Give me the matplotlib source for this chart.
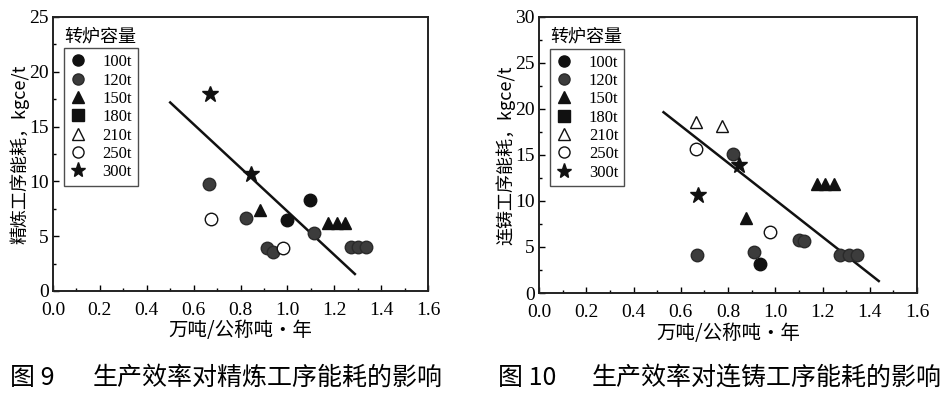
import numpy as np
import matplotlib
matplotlib.use("Agg")
import matplotlib.pyplot as plt
from matplotlib.lines import Line2D
from matplotlib.ticker import MultipleLocator

plt.rcParams['font.family'] = ['Liberation Serif', 'Noto Sans CJK SC']
CJK = ['Noto Sans CJK SC', 'DejaVu Sans']

# legend categories (转炉容量)
capacities = ['100t', '120t', '150t', '180t', '210t', '250t', '300t']

# ---- 图9: 精炼工序能耗 ----
ref_100t_x = [0.997, 1.096]
ref_100t_y = [6.5, 8.3]
ref_120t_x = [0.666, 0.823, 1.114, 0.911, 0.937, 1.27, 1.30, 1.335]
ref_120t_y = [9.75, 6.65, 5.3, 3.9, 3.6, 4.05, 4.05, 4.05]
ref_150t_x = [0.883, 1.174, 1.210, 1.245]
ref_150t_y = [7.4, 6.2, 6.2, 6.2]
ref_250t_x = [0.673, 0.98]
ref_250t_y = [6.6, 3.95]
ref_300t_x = [0.670, 0.845]
ref_300t_y = [18.0, 10.7]
ref_fit_x = [0.50, 1.288]
ref_fit_y = [17.2, 1.55]

# ---- 图10: 连铸工序能耗 ----
cc_100t_x = [0.936]
cc_100t_y = [3.2]
cc_120t_x = [0.668, 0.823, 0.911, 1.099, 1.12, 1.275, 1.31, 1.345]
cc_120t_y = [4.1, 15.1, 4.5, 5.75, 5.6, 4.1, 4.1, 4.1]
cc_150t_x = [0.877, 1.176, 1.212, 1.247]
cc_150t_y = [8.1, 11.9, 11.9, 11.9]
cc_210t_x = [0.665, 0.774]
cc_210t_y = [18.6, 18.1]
cc_250t_x = [0.665, 0.976]
cc_250t_y = [15.6, 6.65]
cc_300t_x = [0.672, 0.845]
cc_300t_y = [10.7, 13.9]
cc_fit_x = [0.527, 1.438]
cc_fit_y = [19.65, 1.3]

styles = {
    '100t': dict(marker='o', mfc='#111111', mec='#111111'),
    '120t': dict(marker='o', mfc='#3c3c3c', mec='#2a2a2a'),
    '150t': dict(marker='^', mfc='#111111', mec='#111111'),
    '180t': dict(marker='s', mfc='#111111', mec='#111111'),
    '210t': dict(marker='^', mfc='white', mec='#111111'),
    '250t': dict(marker='o', mfc='white', mec='#111111'),
    '300t': dict(marker='*', mfc='#111111', mec='#111111'),
}
msizes = {'300t': 12}


def draw(ax, series, fit_x, fit_y, ymax, ylabel):
    ax.plot(fit_x, fit_y, color='#111111', lw=1.8, zorder=2)
    for cap, (xs, ys) in series.items():
        ax.plot(xs, ys, ls='none', ms=msizes.get(cap, 9), mew=1.0,
                zorder=3, **styles[cap])
    ax.set_xlim(0, 1.6)
    ax.set_ylim(0, ymax)
    ax.xaxis.set_minor_locator(MultipleLocator(0.1))
    ax.yaxis.set_major_locator(MultipleLocator(5))
    ax.yaxis.set_minor_locator(MultipleLocator(2.5))
    ax.set_xticks(np.arange(0, 1.61, 0.2))
    ax.set_xticklabels(['%.1f' % v for v in np.arange(0, 1.61, 0.2)])
    ax.tick_params(which='both', direction='in', top=False, right=False,
                   labelsize=14, width=1.0)
    ax.tick_params(axis='x', pad=8)
    ax.tick_params(axis='y', pad=3)
    ax.tick_params(which='major', length=4)
    ax.tick_params(which='minor', length=2.5)
    for s in ax.spines.values():
        s.set_linewidth(1.4)
        s.set_color('#222222')
    ax.set_xlabel('万吨/公称吨·年', family=CJK, fontsize=14, labelpad=1)
    ax.set_ylabel(ylabel, family=CJK, fontsize=13, labelpad=0)

    handles = [Line2D([], [], ls='none', ms=msizes.get(c, 9) - 1, mew=1.0,
                      **styles[c]) for c in capacities]
    leg = ax.legend(handles, capacities, loc='upper left',
                    bbox_to_anchor=(0.028, 0.885), frameon=True, fancybox=False,
                    edgecolor='#222222', fontsize=12, handlelength=1.0,
                    handletextpad=1.0, labelspacing=0.14, borderpad=0.35,
                    borderaxespad=0)
    leg.get_frame().set_linewidth(1.0)
    ax.text(0.125, 0.928, '转炉容量', transform=ax.transAxes, family=CJK,
            fontsize=13, ha='center', va='center')


fig = plt.figure(figsize=(9.45, 3.96), dpi=100)
ax1 = fig.add_axes([0.0561, 0.2652, 0.3968, 0.6919])
ax2 = fig.add_axes([0.5704, 0.2601, 0.400, 0.697])

draw(ax1, {'100t': (ref_100t_x, ref_100t_y), '120t': (ref_120t_x, ref_120t_y),
           '150t': (ref_150t_x, ref_150t_y), '250t': (ref_250t_x, ref_250t_y),
           '300t': (ref_300t_x, ref_300t_y)},
     ref_fit_x, ref_fit_y, 25, '精炼工序能耗，kgce/t')
draw(ax2, {'100t': (cc_100t_x, cc_100t_y), '120t': (cc_120t_x, cc_120t_y),
           '150t': (cc_150t_x, cc_150t_y), '210t': (cc_210t_x, cc_210t_y),
           '250t': (cc_250t_x, cc_250t_y), '300t': (cc_300t_x, cc_300t_y)},
     cc_fit_x, cc_fit_y, 30, '连铸工序能耗，kgce/t')

fig.text(10 / 945, 1 - 378 / 396, '图 9', family=CJK, fontsize=18,
         ha='left', va='center')
fig.text(443 / 945, 1 - 378 / 396, '生产效率对精炼工序能耗的影响',
         family=CJK, fontsize=18, ha='right', va='center')
fig.text(498 / 945, 1 - 378 / 396, '图 10', family=CJK, fontsize=18,
         ha='left', va='center')
fig.text(942 / 945, 1 - 378 / 396, '生产效率对连铸工序能耗的影响',
         family=CJK, fontsize=18, ha='right', va='center')

fig.savefig('out.png', dpi=100)
